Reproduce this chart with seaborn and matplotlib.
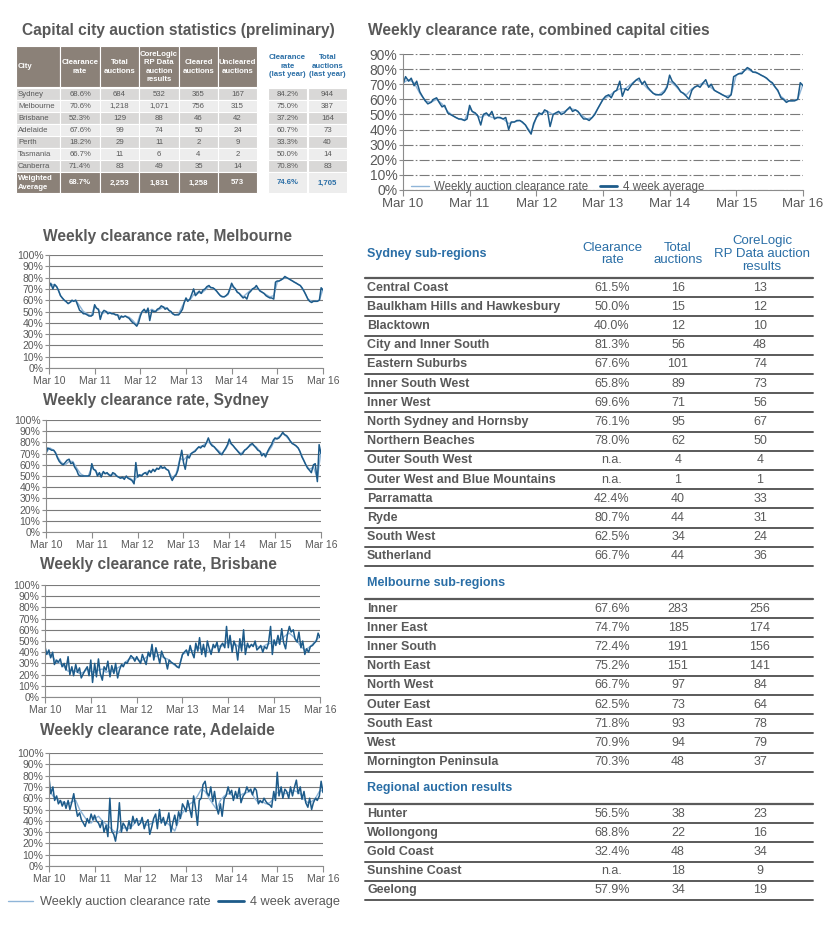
import matplotlib
matplotlib.use('Agg')
import matplotlib.pyplot as plt
from matplotlib.ticker import PercentFormatter, MultipleLocator
from matplotlib.patches import Rectangle
from matplotlib.lines import Line2D
import seaborn as sns
import pandas as pd

# ---------------- data ----------------
year_ticks = ['2010-03-01', '2011-03-01', '2012-03-01', '2013-03-01',
              '2014-03-01', '2015-03-01', '2016-03-01']
year_labels = ['Mar 10', 'Mar 11', 'Mar 12', 'Mar 13', 'Mar 14', 'Mar 15', 'Mar 16']

# capital city table
city_names = ['Sydney', 'Melbourne', 'Brisbane', 'Adelaide', 'Perth', 'Tasmania', 'Canberra']
city_rate = ['68.6%', '70.6%', '52.3%', '67.6%', '18.2%', '66.7%', '71.4%']
city_total = ['684', '1,218', '129', '99', '29', '11', '83']
city_results = ['532', '1,071', '88', '74', '11', '6', '49']
city_cleared = ['365', '756', '46', '50', '2', '4', '35']
city_uncleared = ['167', '315', '42', '24', '9', '2', '14']
city_rate_ly = ['84.2%', '75.0%', '37.2%', '60.7%', '33.3%', '50.0%', '70.8%']
city_total_ly = ['944', '387', '164', '73', '40', '14', '83']
weighted_row = ['Weighted\nAverage', '68.7%', '2,253', '1,831', '1,258', '573']
weighted_ly = ['74.6%', '1,705']
city_headers = ['City', 'Clearance\nrate', 'Total\nauctions', 'CoreLogic\nRP Data\nauction\nresults',
                'Cleared\nauctions', 'Uncleared\nauctions']
ly_headers = ['Clearance\nrate\n(last year)', 'Total\nauctions\n(last year)']

# sub-region tables
syd_regions = ['Central Coast', 'Baulkham Hills and Hawkesbury', 'Blacktown', 'City and Inner South',
               'Eastern Suburbs', 'Inner South West', 'Inner West', 'North Sydney and Hornsby',
               'Northern Beaches', 'Outer South West', 'Outer West and Blue Mountains', 'Parramatta',
               'Ryde', 'South West', 'Sutherland']
syd_rate = ['61.5%', '50.0%', '40.0%', '81.3%', '67.6%', '65.8%', '69.6%', '76.1%', '78.0%',
            'n.a.', 'n.a.', '42.4%', '80.7%', '62.5%', '66.7%']
syd_total = [16, 15, 12, 56, 101, 89, 71, 95, 62, 4, 1, 40, 44, 34, 44]
syd_results = [13, 12, 10, 48, 74, 73, 56, 67, 50, 4, 1, 33, 31, 24, 36]

mel_regions = ['Inner', 'Inner East', 'Inner South', 'North East', 'North West', 'Outer East',
               'South East', 'West', 'Mornington Peninsula']
mel_rate = ['67.6%', '74.7%', '72.4%', '75.2%', '66.7%', '62.5%', '71.8%', '70.9%', '70.3%']
mel_total = [283, 185, 191, 151, 97, 73, 93, 94, 48]
mel_results = [256, 174, 156, 141, 84, 64, 78, 79, 37]

reg_regions = ['Hunter', 'Wollongong', 'Gold Coast', 'Sunshine Coast', 'Geelong']
reg_rate = ['56.5%', '68.8%', '32.4%', 'n.a.', '57.9%']
reg_total = [38, 22, 48, 18, 34]
reg_results = [23, 16, 34, 9, 19]

# weekly clearance rate series (%): smooth light line monthly, dark line twice a month
comb_light = [71, 73, 71, 64, 59, 58, 60, 57, 52, 49, 47, 46,
              54, 50, 48, 50, 48, 48, 47, 44, 45, 46, 43, 38,
              48, 51, 52, 50, 51, 52, 54, 53, 50, 47, 48, 54,
              60, 62, 65, 67, 67, 70, 73, 71, 67, 64, 63, 66,
              72, 69, 65, 63, 67, 69, 71, 69, 66, 64, 62, 63,
              76, 78, 80, 78, 77, 75, 72, 68, 62, 59, 59, 60,
              70]
comb_dark = [70, 75, 72, 74, 69, 72, 65, 62, 59, 57, 58, 60, 61, 58, 55, 56, 51, 50, 49, 48, 47, 47, 46, 47,
             56, 52, 51, 49, 43, 50, 51, 49, 52, 47, 48, 48, 47, 48, 40, 45, 45, 46, 46, 45, 43, 40, 37, 44,
             48, 51, 50, 53, 52, 42, 50, 51, 52, 50, 51, 53, 55, 52, 53, 52, 49, 47, 47, 46, 48, 50, 54, 57,
             60, 62, 63, 61, 65, 66, 72, 62, 67, 66, 69, 71, 73, 74, 70, 72, 68, 66, 64, 63, 63, 63, 65, 68,
             76, 72, 70, 68, 65, 64, 62, 60, 66, 68, 69, 68, 71, 73, 68, 70, 66, 65, 64, 63, 62, 61, 63, 75,
             76, 77, 77, 79, 81, 80, 78, 78, 77, 76, 75, 74, 72, 71, 68, 66, 61, 60, 58, 59, 59, 59, 60, 71,
             69]

mel_light = [72, 74, 72, 64, 60, 57, 59, 60, 55, 50, 48, 46,
             55, 51, 48, 50, 49, 48, 47, 45, 46, 45, 42, 38,
             48, 51, 50, 52, 50, 52, 54, 53, 49, 47, 48, 55,
             61, 60, 65, 67, 66, 69, 72, 71, 68, 64, 63, 65,
             73, 69, 66, 63, 66, 69, 71, 70, 67, 65, 63, 64,
             76, 78, 80, 79, 77, 75, 73, 68, 61, 59, 59, 60,
             70]
mel_dark = [72, 75, 70, 74, 72, 69, 64, 62, 60, 59, 57, 58, 60, 59, 60, 56, 51, 50, 48, 48, 47, 46, 46, 47,
            56, 53, 52, 43, 49, 51, 50, 48, 49, 48, 48, 47, 47, 43, 46, 45, 46, 45, 44, 42, 40, 39, 37, 40,
            46, 50, 52, 49, 53, 42, 51, 50, 50, 52, 53, 55, 54, 52, 53, 51, 50, 48, 47, 47, 47, 49, 52, 58,
            62, 59, 61, 65, 70, 64, 66, 68, 66, 69, 70, 72, 73, 71, 71, 70, 68, 66, 64, 63, 63, 64, 66, 70,
            75, 72, 70, 67, 66, 64, 62, 63, 61, 66, 68, 70, 71, 73, 70, 68, 67, 66, 64, 63, 62, 62, 61, 76,
            77, 77, 78, 79, 81, 80, 79, 78, 77, 76, 75, 74, 73, 71, 68, 65, 61, 59, 58, 59, 59, 59, 60, 71,
            69]

syd_light = [71, 75, 73, 67, 62, 60, 63, 63, 57, 52, 50, 50,
             58, 54, 51, 53, 52, 51, 51, 49, 48, 49, 48, 45,
             51, 51, 53, 54, 55, 56, 57, 57, 55, 48, 52, 66,
             64, 68, 70, 73, 76, 77, 80, 80, 76, 73, 70, 74,
             80, 77, 73, 70, 73, 76, 78, 76, 72, 69, 71, 76,
             83, 85, 88, 85, 81, 78, 75, 68, 60, 56, 58, 48,
             72]
syd_dark = [70, 75, 74, 73, 73, 71, 66, 63, 61, 60, 62, 64, 65, 61, 62, 58, 55, 51, 50, 50, 50, 50, 50, 51,
            61, 56, 55, 50, 53, 49, 54, 52, 53, 51, 50, 53, 52, 50, 49, 48, 49, 47, 50, 48, 47, 46, 43, 62,
            49, 51, 50, 52, 53, 51, 55, 53, 56, 54, 57, 56, 59, 57, 58, 56, 55, 50, 46, 49, 51, 55, 65, 73,
            62, 56, 68, 66, 70, 71, 72, 74, 76, 75, 77, 76, 80, 84, 79, 77, 76, 74, 72, 70, 69, 72, 75, 78,
            83, 79, 77, 75, 73, 71, 69, 70, 73, 74, 76, 78, 79, 77, 75, 73, 72, 68, 70, 67, 72, 75, 78, 82,
            84, 83, 84, 86, 89, 87, 86, 84, 81, 79, 78, 77, 75, 72, 67, 64, 60, 57, 55, 53, 60, 61, 45, 78,
            70]

bne_light = [42, 38, 36, 31, 30, 27, 23, 24, 23, 21, 22, 25,
             23, 22, 24, 25, 22, 24, 22, 26, 28, 31, 34, 35,
             34, 32, 34, 37, 39, 36, 38, 35, 34, 31, 28, 27,
             38, 40, 42, 41, 45, 42, 43, 40, 44, 46, 45, 47,
             50, 46, 47, 44, 47, 45, 46, 47, 44, 45, 47, 48,
             50, 48, 52, 55, 57, 54, 50, 45, 42, 44, 47, 51,
             54]
bne_dark = [45, 38, 42, 35, 40, 29, 33, 31, 34, 27, 30, 24, 36, 20, 27, 19, 29, 22, 26, 17, 21, 24, 27, 19,
            33, 13, 30, 18, 34, 21, 15, 27, 24, 32, 18, 28, 21, 30, 17, 24, 29, 27, 31, 30, 34, 37, 35, 32,
            36, 33, 30, 38, 33, 29, 40, 36, 47, 33, 44, 38, 30, 41, 36, 34, 25, 33, 31, 30, 29, 27, 26, 32,
            38, 40, 42, 37, 46, 40, 35, 48, 41, 53, 38, 47, 36, 50, 43, 38, 47, 44, 49, 40, 46, 48, 44, 63,
            44, 55, 40, 50, 45, 33, 52, 41, 60, 38, 48, 44, 47, 45, 50, 42, 44, 46, 40, 45, 43, 48, 63, 38,
            51, 46, 55, 47, 61, 49, 43, 56, 63, 58, 60, 52, 49, 58, 44, 50, 38, 43, 40, 45, 46, 48, 50, 57,
            53]

adl_light = [68, 62, 60, 57, 56, 55, 57, 58, 50, 45, 40, 38,
             42, 44, 40, 37, 34, 31, 29, 33, 34, 33, 36, 40,
             40, 37, 36, 38, 40, 42, 39, 38, 35, 31, 40, 47,
             51, 55, 57, 62, 68, 66, 60, 55, 50, 58, 62, 64,
             63, 60, 62, 64, 65, 66, 60, 56, 57, 55, 56, 60,
             65, 66, 64, 65, 67, 66, 64, 59, 56, 57, 60, 66,
             67]
adl_dark = [78, 64, 70, 58, 62, 55, 58, 53, 57, 51, 58, 50, 57, 64, 52, 44, 47, 41, 38, 35, 42, 38, 46, 41,
            45, 40, 38, 34, 40, 30, 36, 26, 60, 31, 28, 22, 34, 56, 30, 38, 35, 31, 40, 33, 44, 38, 42, 36,
            38, 43, 33, 38, 41, 28, 35, 42, 46, 33, 50, 38, 43, 36, 40, 47, 30, 38, 45, 36, 48, 42, 55, 52,
            48, 58, 50, 43, 62, 52, 36, 58, 60, 72, 75, 65, 62, 70, 57, 66, 52, 46, 55, 44, 60, 62, 70, 64,
            67, 58, 66, 60, 69, 56, 62, 64, 70, 66, 68, 63, 69, 67, 55, 58, 56, 60, 57, 55, 54, 52, 66, 58,
            83, 62, 70, 60, 68, 66, 60, 70, 62, 69, 76, 64, 70, 59, 66, 56, 52, 60, 50, 56, 60, 58, 62, 75,
            65]

# ---------------- style ----------------
W, H = 836, 927
TXT = '#595959'
DARK = '#1D5B8A'
LIGHT = '#8FB5D8'
GRID = '#8C8C8C'
BLUE = '#2A6EA6'
TAUPE = '#8B8178'
ROW_A = '#D9D8D7'
ROW_B = '#EDEDED'
TITLE_FS = 11.2

sns.set_theme(style='white')
plt.rcParams['font.family'] = ['Liberation Sans', 'DejaVu Sans']

fig = plt.figure(figsize=(W / 100, H / 100), dpi=100)


def fx(x):
    return x / W


def fy(y):
    return 1 - y / H


def ftext(x, y, s, **kw):
    kw.setdefault('va', 'center')
    kw.setdefault('color', TXT)
    fig.text(fx(x), fy(y), s, **kw)


def cell(l, t, r, b, color):
    fig.add_artist(Rectangle((fx(l), fy(b)), (r - l) / W, (b - t) / H, transform=fig.transFigure,
                             facecolor=color, edgecolor='white', lw=0.8))


def hline(x0, x1, y, lw=1.4):
    fig.add_artist(Line2D([fx(x0), fx(x1)], [fy(y), fy(y)], transform=fig.transFigure,
                          color='#5A5A5A', lw=lw))


def weekly_chart(l, t, r, b, light, dark, ymax, fs_x, fs_y, grid_ls):
    ax = fig.add_axes([fx(l), fy(b), (r - l) / W, (b - t) / H])
    light_df = pd.DataFrame({'date': pd.date_range('2010-03-01', periods=len(light), freq='MS'),
                             'value': light})
    dark_df = pd.DataFrame({'date': pd.date_range('2010-03-01', periods=len(dark), freq='SMS'),
                            'value': dark})
    sns.lineplot(data=light_df, x='date', y='value', ax=ax, color=LIGHT, lw=1.0)
    sns.lineplot(data=dark_df, x='date', y='value', ax=ax, color=DARK, lw=1.1)
    ax.set_xlim(pd.Timestamp(year_ticks[0]), pd.Timestamp(year_ticks[-1]))
    ax.set_ylim(0, ymax)
    ax.yaxis.set_major_locator(MultipleLocator(10))
    ax.yaxis.set_major_formatter(PercentFormatter(xmax=100, decimals=0))
    ax.set_xticks(pd.to_datetime(year_ticks))
    ax.set_xticklabels(year_labels)
    ax.set_xlabel('')
    ax.set_ylabel('')
    ax.yaxis.grid(True, color='#7A7A7A', lw=0.8, ls=grid_ls)
    ax.xaxis.grid(False)
    ax.set_axisbelow(True)
    for s in ['top', 'right']:
        ax.spines[s].set_visible(False)
    for s in ['left', 'bottom']:
        ax.spines[s].set_color(GRID)
        ax.spines[s].set_linewidth(0.8)
    ax.tick_params(axis='x', direction='out', length=4, width=0.8, color=GRID,
                   labelsize=fs_x, labelcolor=TXT, pad=2, bottom=True)
    ax.tick_params(axis='y', direction='out', length=3, width=0.8, color=GRID,
                   labelsize=fs_y, labelcolor=TXT, pad=1, left=True)
    return ax


# ---------------- capital city table ----------------
ftext(22, 30, 'Capital city auction statistics (preliminary)', fontsize=TITLE_FS, fontweight='bold')
cols = [(16, 60), (60, 100), (100, 139), (139, 179), (179, 218), (218, 257)]
cols_ly = [(268, 307), (308, 347)]
for (l, r), h in zip(cols, city_headers):
    cell(l, 46, r, 87, TAUPE)
    if h == 'City':
        ftext(l + 2, 67, h, fontsize=5.6, fontweight='bold', color='white')
    else:
        ftext((l + r) / 2, 67, h, fontsize=5.6, fontweight='bold', color='white',
              ha='center', linespacing=1.25)
for (l, r), h in zip(cols_ly, ly_headers):
    ftext((l + r) / 2, 66, h, fontsize=5.6, fontweight='bold', color=BLUE, ha='center', linespacing=1.3)

city_cols = [city_names, city_rate, city_total, city_results, city_cleared, city_uncleared]
for i in range(len(city_names)):
    top = 88 + 12 * i
    color = ROW_A if i % 2 == 0 else ROW_B
    for j, (l, r) in enumerate(cols):
        cell(l, top, r, top + 12, color)
        if j == 0:
            ftext(l + 2, top + 6, city_cols[j][i], fontsize=5.6)
        else:
            ftext((l + r) / 2, top + 6, city_cols[j][i], fontsize=5.6, ha='center')
    for (l, r), vals in zip(cols_ly, [city_rate_ly, city_total_ly]):
        cell(l, top, r, top + 12, color)
        ftext((l + r) / 2, top + 6, vals[i], fontsize=5.6, ha='center')

for j, (l, r) in enumerate(cols):
    cell(l, 172, r, 193, TAUPE)
    if j == 0:
        ftext(l + 2, 183, weighted_row[j], fontsize=5.6, fontweight='bold', color='white',
              linespacing=1.3)
    else:
        ftext((l + r) / 2, 183, weighted_row[j], fontsize=5.6, fontweight='bold', color='white',
              ha='center')
for (l, r), v in zip(cols_ly, weighted_ly):
    cell(l, 172, r, 193, ROW_B)
    ftext((l + r) / 2, 183, v, fontsize=5.6, fontweight='bold', color=BLUE, ha='center')

# ---------------- combined chart ----------------
ftext(368, 30, 'Weekly clearance rate, combined capital cities', fontsize=TITLE_FS, fontweight='bold')
ax_c = weekly_chart(403, 54, 803, 190, comb_light, comb_dark, 90, 9.5, 10, (0, (9, 2, 1.5, 2)))
handles = [Line2D([], [], color=LIGHT, lw=1.0), Line2D([], [], color=DARK, lw=2.0)]
labels = ['Weekly auction clearance rate', '4 week average']
ax_c.legend(handles, labels, loc='lower left', bbox_to_anchor=(-0.005, -0.1), ncol=2, frameon=False,
            fontsize=8.3, labelcolor=TXT, handlelength=1.5, handletextpad=0.5, columnspacing=1.0)

# ---------------- city charts ----------------
ftext(43, 237, 'Weekly clearance rate, Melbourne', fontsize=TITLE_FS, fontweight='bold')
weekly_chart(49, 255, 323, 368, mel_light, mel_dark, 100, 7.5, 7.5, '-')
ftext(43, 400, 'Weekly clearance rate, Sydney', fontsize=TITLE_FS, fontweight='bold')
weekly_chart(46, 420, 321, 532, syd_light, syd_dark, 100, 7.5, 7.5, '-')
ftext(40, 564, 'Weekly clearance rate, Brisbane', fontsize=TITLE_FS, fontweight='bold')
weekly_chart(45, 585, 320, 697, bne_light, bne_dark, 100, 7.5, 7.5, '-')
ftext(40, 730, 'Weekly clearance rate, Adelaide', fontsize=TITLE_FS, fontweight='bold')
weekly_chart(49, 753, 323, 866, adl_light, adl_dark, 100, 7.5, 7.5, '-')

fig.legend(handles, labels, loc='center', bbox_to_anchor=(fx(174), fy(902)), ncol=2, frameon=False,
           fontsize=9.2, labelcolor=TXT, handlelength=2.0, handletextpad=0.5, columnspacing=0.6)

# ---------------- sub-region tables ----------------
ROW_H = 19.2


def region_table(top, names, rates, totals, results):
    hline(365, 813, top, lw=1.6)
    for i, name in enumerate(names):
        yc = top + ROW_H * (i + 0.5)
        ftext(367, yc, name, fontsize=9, fontweight='bold')
        ftext(612, yc, rates[i], fontsize=9, ha='center')
        ftext(678, yc, str(totals[i]), fontsize=9, ha='center')
        ftext(760, yc, str(results[i]), fontsize=9, ha='center')
        hline(365, 813, top + ROW_H * (i + 1))


ftext(367, 254, 'Sydney sub-regions', fontsize=9, fontweight='bold', color=BLUE)
ftext(612, 254, 'Clearance\nrate', fontsize=9.5, ha='center', color=BLUE, linespacing=1.1)
ftext(678, 254, 'Total\nauctions', fontsize=9.5, ha='center', color=BLUE, linespacing=1.1)
ftext(762, 254, 'CoreLogic\nRP Data auction\nresults', fontsize=9.5, ha='center', color=BLUE,
      linespacing=1.1)
region_table(278, syd_regions, syd_rate, syd_total, syd_results)

ftext(367, 583, 'Melbourne sub-regions', fontsize=9, fontweight='bold', color=BLUE)
region_table(599, mel_regions, mel_rate, mel_total, mel_results)

ftext(367, 788, 'Regional auction results', fontsize=9, fontweight='bold', color=BLUE)
region_table(804, reg_regions, reg_rate, reg_total, reg_results)

fig.savefig('out.png', dpi=100)
